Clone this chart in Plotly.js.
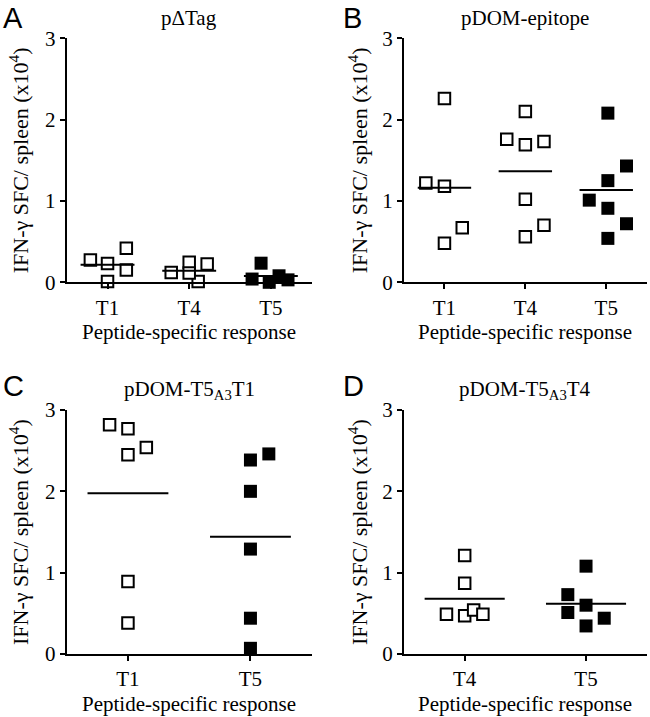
<!DOCTYPE html>
<html>
<head>
<meta charset="utf-8">
<script src="https://cdn.plot.ly/plotly-3.0.1.min.js"></script>
<style>html,body{margin:0;padding:0;background:#fff;}#chart{width:650px;height:717px;}</style>
</head>
<body>
<div id="chart"></div>
<script>
// ---- Data (IFN-γ SFC / spleen, x10^4) ----
const catsA = ['T1', 'T4', 'T5'];
const a_T1 = [0.275, 0.23, 0.01, 0.42, 0.15];
const a_T4 = [0.12, 0.245, 0.01, 0.225, 0.115];
const a_T5 = [0.04, 0.235, 0.00, 0.08, 0.03];

const catsB = ['T1', 'T4', 'T5'];
const b_T1 = [1.22, 1.18, 2.26, 0.48, 0.67];
const b_T4 = [1.76, 2.10, 1.69, 1.02, 0.56, 1.73, 0.70];
const b_T5 = [1.01, 2.08, 1.25, 0.91, 0.54, 1.43, 0.72];

const catsC = ['T1', 'T5'];
const c_T1 = [2.82, 2.77, 2.45, 2.54, 0.89, 0.38];
const c_T5 = [2.385, 2.46, 2.00, 1.29, 0.44, 0.07];

const catsD = ['T4', 'T5'];
const d_T4 = [1.21, 0.87, 0.49, 0.47, 0.54, 0.49];
const d_T5 = [1.08, 0.73, 0.51, 0.60, 0.345, 0.44];

const yTicks = [0, 1, 2, 3];
const panelTitles = ['pΔTag', 'pDOM-epitope', 'pDOM-T5<sub>A3</sub>T1', 'pDOM-T5<sub>A3</sub>T4'];
const panelLetters = ['A', 'B', 'C', 'D'];
const xTitle = 'Peptide-specific response';
const yTitle = 'IFN-γ SFC/ spleen (x10<sup>4</sup>)';

// horizontal scatter offsets (in category units) of the dot-plot points
const jA = [[-0.21, 0, 0, 0.23, 0.23], [-0.22, 0, 0.11, 0.22, 0], [-0.23, -0.12, -0.02, 0.10, 0.21]];
const jB = [[-0.23, 0, 0, 0, 0.22], [-0.23, 0, 0, 0, 0, 0.23, 0.23], [-0.21, 0.02, 0.02, 0.02, 0.02, 0.25, 0.25]];
const jC = [[-0.15, 0, 0, 0.15, 0, 0], [0, 0.15, 0, 0, 0, 0]];
const jD = [[0, 0, -0.15, 0, 0.074, 0.15], [0, -0.15, -0.15, 0, 0, 0.15]];

// ---- Build ----
const SERIF = '"Liberation Serif", "Times New Roman", serif';
const SANS = '"Liberation Sans", Arial, sans-serif';
const traces = [];
const mean = a => a.reduce((s, v) => s + v, 0) / a.length;

function addPanel(series, jit, filledIdx, xa, ya) {
  series.forEach((vals, i) => {
    const filled = filledIdx.includes(i);
    traces.push({
      type: 'scatter', mode: 'markers', xaxis: xa, yaxis: ya,
      x: vals.map((v, k) => i + jit[i][k]), y: vals,
      cliponaxis: false, showlegend: false, hoverinfo: 'y',
      marker: filled
        ? {symbol: 'square', size: 13, color: '#000', line: {width: 0}}
        : {symbol: 'square', size: 11.5, color: '#fff', line: {width: 2, color: '#000'}}
    });
    const m = mean(vals);
    traces.push({
      type: 'scatter', mode: 'lines', xaxis: xa, yaxis: ya,
      x: [i - 0.33, i + 0.33], y: [m, m], cliponaxis: false,
      showlegend: false, hoverinfo: 'skip',
      line: {color: '#000', width: 2}
    });
  });
}
addPanel([a_T1, a_T4, a_T5], jA, [2], 'x', 'y');
addPanel([b_T1, b_T4, b_T5], jB, [2], 'x2', 'y2');
addPanel([c_T1, c_T5], jC, [1], 'x3', 'y3');
addPanel([d_T4, d_T5], jD, [1], 'x4', 'y4');

const W = 650, H = 717;
const pxL = [66.7, 311.7], pxR = [404, 646.7];
const pyT = [38.3, 282.3], pyB = [410, 654];
const dom = p => [p[0] / W, p[1] / W];
const domY = p => [1 - p[1] / H, 1 - p[0] / H];

function xax(cats, d, anchor) {
  return {
    domain: d, anchor: anchor, range: [-0.5, cats.length - 0.5],
    tickvals: cats.map((c, i) => i), ticktext: cats,
    showline: true, linecolor: '#000', linewidth: 2,
    ticks: 'outside', ticklen: 5, tickwidth: 2, tickcolor: '#000',
    showgrid: false, zeroline: false, fixedrange: true,
    tickfont: {family: SERIF, size: 21, color: '#000'}
  };
}
function yax(d, anchor) {
  return {
    domain: d, anchor: anchor, range: [0, 3],
    tickvals: yTicks, ticktext: yTicks.map(String),
    showline: true, linecolor: '#000', linewidth: 2,
    ticks: 'outside', ticklen: 5, tickwidth: 2, tickcolor: '#000',
    showgrid: false, zeroline: false, fixedrange: true,
    tickfont: {family: SERIF, size: 21, color: '#000'}
  };
}

const ann = [];
const base = {xref: 'paper', yref: 'paper', showarrow: false, xanchor: 'center', yanchor: 'middle'};
const panels = [
  {px: pxL, py: pyT, ytx: 19, let: [13, 0]},
  {px: pxR, py: pyT, ytx: 358, let: [352, 0]},
  {px: pxL, py: pyB, ytx: 19, let: [13, 368]},
  {px: pxR, py: pyB, ytx: 358, let: [353, 368]}
];
panels.forEach((p, i) => {
  const cx = (p.px[0] + p.px[1]) / 2;
  const cy = (p.py[0] + p.py[1]) / 2;
  ann.push(Object.assign({}, base, {text: panelTitles[i], x: cx / W, y: 1 - (p.py[0] - 20) / H,
    font: {family: SERIF, size: 21, color: '#000'}}));
  ann.push(Object.assign({}, base, {text: xTitle, x: cx / W, y: 1 - (p.py[1] + 50) / H,
    font: {family: SERIF, size: 21, color: '#000'}}));
  ann.push(Object.assign({}, base, {text: yTitle, x: p.ytx / W, y: 1 - cy / H, textangle: -90,
    font: {family: SERIF, size: 22, color: '#000'}}));
  ann.push(Object.assign({}, base, {text: panelLetters[i], x: p.let[0] / W, y: 1 - p.let[1] / H,
    yanchor: 'top', font: {family: SANS, size: 29, color: '#000'}}));
});

const layout = {
  width: W, height: H, margin: {l: 0, r: 0, t: 0, b: 0},
  font: {family: SERIF, color: '#000'},
  paper_bgcolor: '#fff', plot_bgcolor: '#fff', showlegend: false,
  xaxis: xax(catsA, dom(pxL), 'y'), yaxis: yax(domY(pyT), 'x'),
  xaxis2: xax(catsB, dom(pxR), 'y2'), yaxis2: yax(domY(pyT), 'x2'),
  xaxis3: xax(catsC, dom(pxL), 'y3'), yaxis3: yax(domY(pyB), 'x3'),
  xaxis4: xax(catsD, dom(pxR), 'y4'), yaxis4: yax(domY(pyB), 'x4'),
  annotations: ann
};

Plotly.newPlot('chart', traces, layout, {staticPlot: true, displayModeBar: false});
</script>
</body>
</html>
